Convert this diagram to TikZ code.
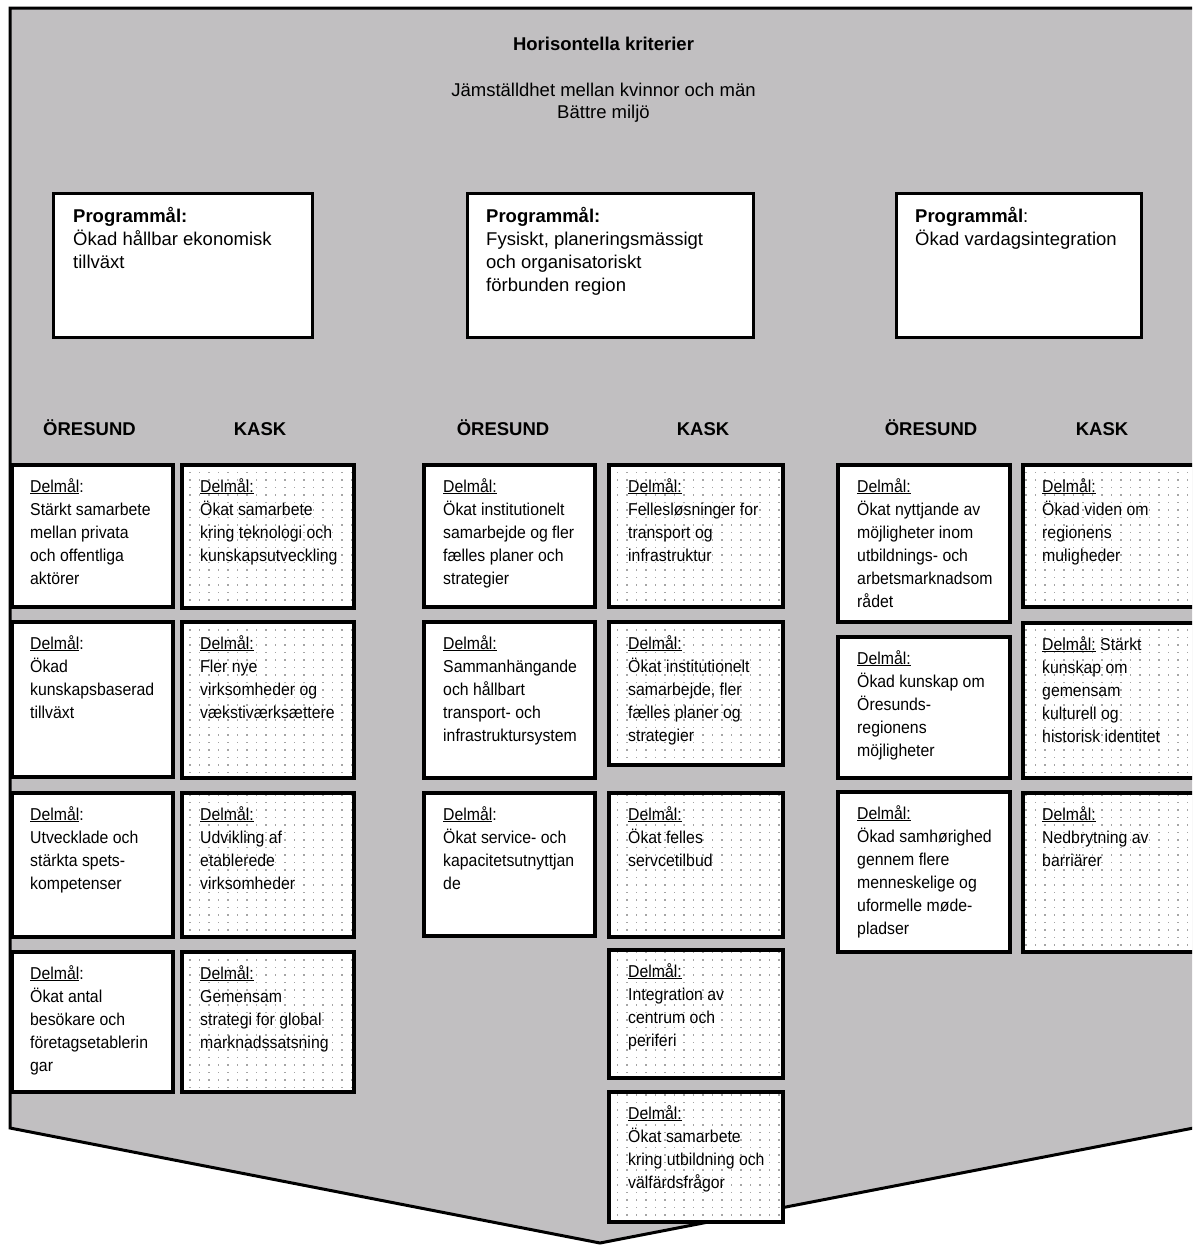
\documentclass[tikz,border=0pt]{standalone}
\usepackage{fontspec}
\setmainfont{Liberation Sans}
\newfontfamily\dfont[FakeStretch=0.92]{Liberation Sans}
\usetikzlibrary{patterns.meta}
\definecolor{bggray}{RGB}{193,191,193}
\definecolor{dotgray}{RGB}{165,165,165}
\newcommand{\boxtext}[1]{\begin{minipage}[t]{300pt}\raggedright #1\end{minipage}}
\newcommand{\dmo}{\underline{Delmål}:}
\newcommand{\dmk}{\underline{Delmål:}}
\tikzdeclarepattern{
  name=kaskdots,
  type=uncolored,
  bounding box={(-1pt,-1pt) and (1pt,1pt)},
  tile size={(9.5pt,7.5pt)},
  code={\pgfpathrectangle{\pgfpoint{-0.65pt}{-0.65pt}}{\pgfpoint{1.3pt}{1.3pt}}\pgfusepath{fill}}
}
\begin{document}
\begin{tikzpicture}[x=1pt,y=-1pt,
  frame/.style={draw=black,line width=3pt,fill=bggray,line join=miter},
  prog/.style={draw=black,line width=3pt,fill=white,inner sep=0pt,outer sep=0pt,anchor=north west},
  obox/.style={draw=black,line width=3.2pt,fill=white,inner sep=0pt,outer sep=0pt,anchor=north west},
  kbox/.style={draw=black,line width=3.2pt,preaction={fill=white},pattern=kaskdots,pattern color=dotgray,inner sep=0pt,outer sep=0pt,anchor=north west},
  dtxt/.style={anchor=base west,inner sep=0pt,font=\dfont\fontsize{17.2}{23}\selectfont},
  ptxt/.style={anchor=base west,inner sep=0pt,font=\fontsize{18.5}{23}\selectfont},
  head/.style={anchor=base,inner sep=0pt,font=\bfseries\fontsize{18.5}{23}\selectfont},
  crit/.style={anchor=base,inner sep=0pt,font=\fontsize{18.5}{23}\selectfont},
]
\useasboundingbox (0,0) rectangle (1192,1245);
\clip (0,0) rectangle (1192,1245);
% background arrow shape
\draw[frame] (10,8) -- (1240,8) -- (1240,1119) -- (600,1243) -- (10,1128) -- cycle;
% title
\node[head] (title) at (603.5,50) {Horisontella kriterier};
\node[crit] (crit1) at (603.5,96) {Jämställdhet mellan kvinnor och män};
\node[crit] (crit2) at (603.5,118) {Bättre miljö};
% program boxes
\node[prog,minimum width=259pt,minimum height=144pt] (p1) at (53,193) {};
\node[prog,minimum width=286pt,minimum height=144pt] (p2) at (467,193) {};
\node[prog,minimum width=245pt,minimum height=144pt] (p3) at (896,193) {};
\node[ptxt] (p1t) at (73,222) {\boxtext{\textbf{Programmål:}\\Ökad hållbar ekonomisk\\tillväxt}};
\node[ptxt] (p2t) at (486,222) {\boxtext{\textbf{Programmål:}\\Fysiskt, planeringsmässigt\\och organisatoriskt\\förbunden region}};
\node[ptxt] (p3t) at (915,222) {\boxtext{\textbf{Programmål}:\\Ökad vardagsintegration}};
% headers
\node[head] (h1) at (89.5,435) {ÖRESUND};
\node[head] (h2) at (260,435) {KASK};
\node[head] (h3) at (503,435) {ÖRESUND};
\node[head] (h4) at (703,435) {KASK};
\node[head] (h5) at (931,435) {ÖRESUND};
\node[head] (h6) at (1102,435) {KASK};
% column A (Öresund 1)
\node[obox,minimum width=161pt,minimum height=142pt] (a1) at (12,465) {};
\node[obox,minimum width=161pt,minimum height=155pt] (a2) at (12,622) {};
\node[obox,minimum width=161pt,minimum height=144pt] (a3) at (12,793) {};
\node[obox,minimum width=161pt,minimum height=140pt] (a4) at (12,952) {};
\node[dtxt] (a1t) at (30,492) {\boxtext{\dmo\\Stärkt samarbete\\mellan privata\\och offentliga\\aktörer}};
\node[dtxt] (a2t) at (30,649) {\boxtext{\dmo\\Ökad\\kunskapsbaserad\\tillväxt}};
\node[dtxt] (a3t) at (30,820) {\boxtext{\dmo\\Utvecklade och\\stärkta spets-\\kompetenser}};
\node[dtxt] (a4t) at (30,979) {\boxtext{\dmo\\Ökat antal\\besökare och\\företagsetablerin\\gar}};
% column B (Kask 1)
\node[kbox,minimum width=172pt,minimum height=143pt] (b1) at (182,465) {};
\node[kbox,minimum width=172pt,minimum height=156pt] (b2) at (182,622) {};
\node[kbox,minimum width=172pt,minimum height=144pt] (b3) at (182,793) {};
\node[kbox,minimum width=172pt,minimum height=140pt] (b4) at (182,952) {};
\node[dtxt] (b1t) at (200,492) {\boxtext{\dmk\\Ökat samarbete\\kring teknologi och\\kunskapsutveckling}};
\node[dtxt] (b2t) at (200,649) {\boxtext{\dmk\\Fler nye\\virksomheder og\\vækstiværksættere}};
\node[dtxt] (b3t) at (200,820) {\boxtext{\dmk\\Udvikling af\\etablerede\\virksomheder}};
\node[dtxt] (b4t) at (200,979) {\boxtext{\dmk\\Gemensam\\strategi for global\\marknadssatsning}};
% column C (Öresund 2)
\node[obox,minimum width=171pt,minimum height=142pt] (c1) at (424,465) {};
\node[obox,minimum width=171pt,minimum height=156pt] (c2) at (424,622) {};
\node[obox,minimum width=171pt,minimum height=143pt] (c3) at (424,793) {};
\node[dtxt] (c1t) at (443,492) {\boxtext{\dmk\\Ökat institutionelt\\samarbejde og fler\\fælles planer och\\strategier}};
\node[dtxt] (c2t) at (443,649) {\boxtext{\dmk\\Sammanhängande\\och hållbart\\transport- och\\infrastruktursystem}};
\node[dtxt] (c3t) at (443,820) {\boxtext{\dmo\\Ökat service- och\\kapacitetsutnyttjan\\de}};
% column D (Kask 2)
\node[kbox,minimum width=174pt,minimum height=142pt] (d1) at (609,465) {};
\node[kbox,minimum width=174pt,minimum height=143pt] (d2) at (609,622) {};
\node[kbox,minimum width=174pt,minimum height=144pt] (d3) at (609,793) {};
\node[kbox,minimum width=174pt,minimum height=128pt] (d4) at (609,950) {};
\node[kbox,minimum width=174pt,minimum height=130pt] (d5) at (609,1092) {};
\node[dtxt] (d1t) at (628,492) {\boxtext{\dmk\\Fellesløsninger for\\transport og\\infrastruktur}};
\node[dtxt] (d2t) at (628,649) {\boxtext{\dmk\\Ökat institutionelt\\samarbejde, fler\\fælles planer og\\strategier}};
\node[dtxt] (d3t) at (628,820) {\boxtext{\dmk\\Ökat felles\\servcetilbud}};
\node[dtxt] (d4t) at (628,977) {\boxtext{\dmk\\Integration av\\centrum och\\periferi}};
\node[dtxt] (d5t) at (628,1119) {\boxtext{\dmk\\Ökat samarbete\\kring utbildning och\\välfärdsfrågor}};
% column E (Öresund 3)
\node[obox,minimum width=172pt,minimum height=157pt] (e1) at (838,465) {};
\node[obox,minimum width=172pt,minimum height=141pt] (e2) at (838,637) {};
\node[obox,minimum width=172pt,minimum height=160pt] (e3) at (838,792) {};
\node[dtxt] (e1t) at (857,492) {\boxtext{\dmk\\Ökat nyttjande av\\möjligheter inom\\utbildnings- och\\arbetsmarknadsom\\rådet}};
\node[dtxt] (e2t) at (857,664) {\boxtext{\dmk\\Ökad kunskap om\\Öresunds-\\regionens\\möjligheter}};
\node[dtxt] (e3t) at (857,819) {\boxtext{\dmk\\Ökad samhørighed\\gennem flere\\menneskelige og\\uformelle møde-\\pladser}};
% column F (Kask 3)
\node[kbox,minimum width=220pt,minimum height=142pt] (f1) at (1023,465) {};
\node[kbox,minimum width=220pt,minimum height=155pt] (f2) at (1023,623) {};
\node[kbox,minimum width=220pt,minimum height=159pt] (f3) at (1023,793) {};
\node[dtxt] (f1t) at (1042,492) {\boxtext{\dmk\\Ökad viden om\\regionens\\muligheder}};
\node[dtxt] (f2t) at (1042,650) {\boxtext{\dmk{} Stärkt\\kunskap om\\gemensam\\kulturell og\\historisk identitet}};
\node[dtxt] (f3t) at (1042,820) {\boxtext{\dmk\\Nedbrytning av\\barriärer}};
\end{tikzpicture}
\end{document}
